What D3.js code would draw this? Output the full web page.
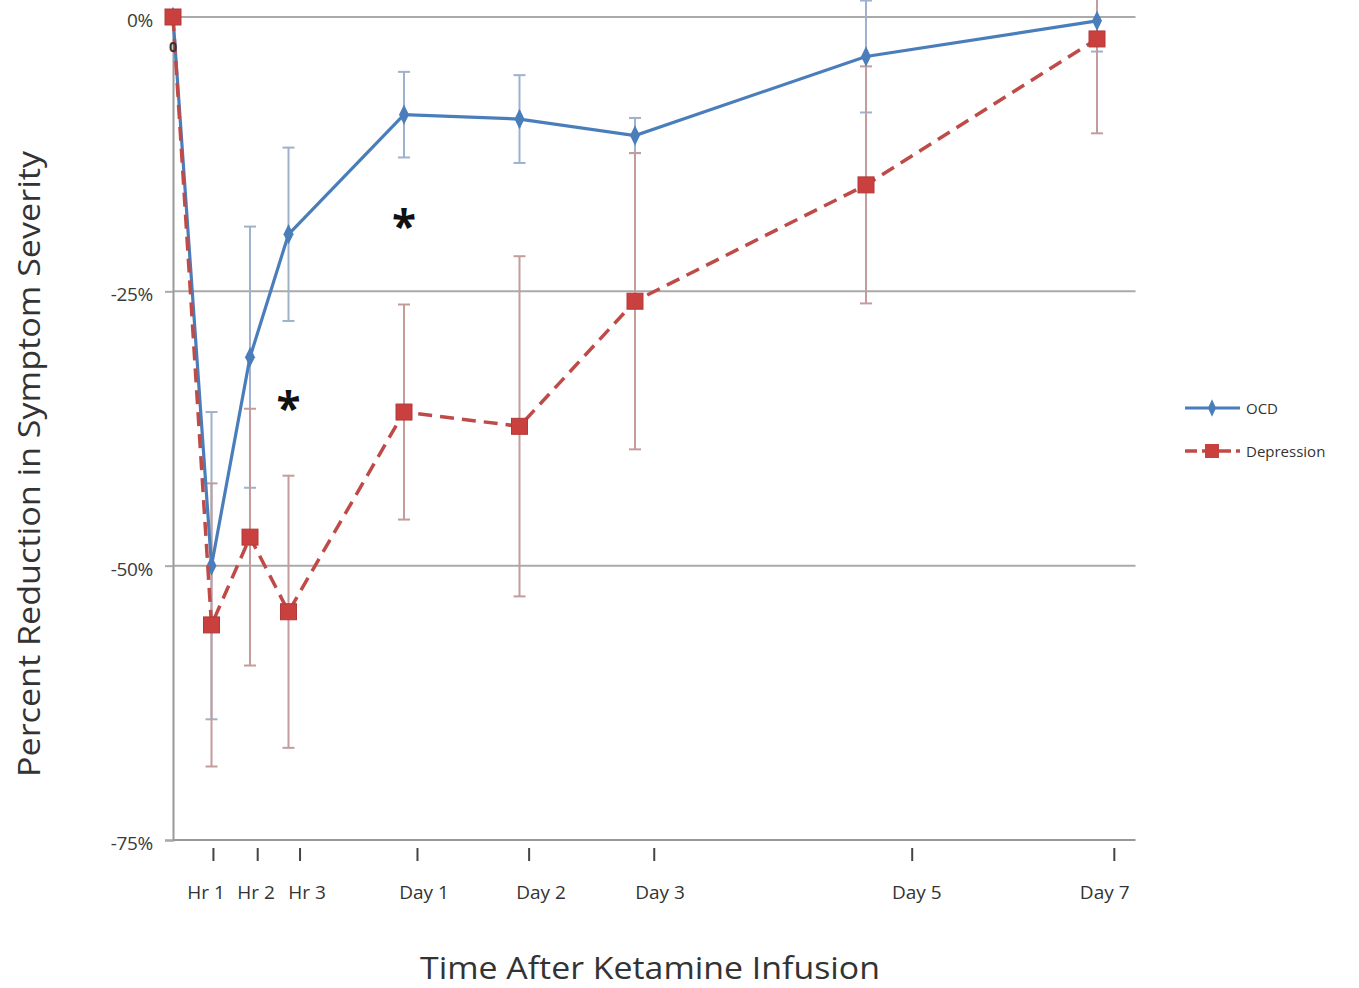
<!DOCTYPE html>
<html>
<head>
<meta charset="utf-8">
<script src="https://cdn.jsdelivr.net/npm/d3@7"></script>
<style>
  body { margin: 0; background: #fff; }
  text { font-family: "Open Sans", sans-serif; }
</style>
</head>
<body>
<svg id="chart" width="1359" height="988"></svg>
<script>
// time points, in axis units (hours 1-3, then 3 units per day)
const timeX = [0, 1, 2, 3, 6, 9, 12, 18, 24];
const ocd = [0, -50.0, -31.0, -19.8, -8.9, -9.3, -10.8, -3.6, -0.35];
const ocdErr = [0, 14.0, 11.9, 7.9, 3.9, 4.0, 1.6, 5.1, 2.8];
const depression = [0, -55.4, -47.4, -54.2, -36.0, -37.3, -25.9, -15.3, -2.0];
const depressionErr = [0, 12.9, 11.7, 12.4, 9.8, 15.5, 13.5, 10.8, 8.6];

// hand placed category labels under the axis
const tickNames = ["Hr 1", "Hr 2", "Hr 3", "Day 1", "Day 2", "Day 3", "Day 5", "Day 7"];
const tickMarkAt = [1.05, 2.2, 3.3, 6.35, 9.25, 12.5, 19.2, 24.45];
const tickLabelAt = [0.86, 2.16, 3.48, 6.52, 9.56, 12.65, 19.32, 24.2];

const yTicks = [0, -25, -50, -75];
// significance markers (centre of the star)
const stars = [{x: 3, y: -34.9}, {x: 6, y: -18.3}];

const svg = d3.select("#chart");

let x = d3.scaleLinear().domain([0, 25]).range([173, 1135.5]);
let y = d3.scaleLinear().domain([-75, 0]).range([840, 17]);

// gridlines
svg.append("g")
	.selectAll("line")
	.data(yTicks.slice(0, 3))
	.join("line")
	.attr("x1", x(0)).attr("x2", x(25))
	.attr("y1", d => y(d)).attr("y2", d => y(d))
	.attr("stroke", "#aaaaaa")
	.attr("stroke-width", 2);

// y axis
let yAxis = d3.axisLeft(y).tickValues(yTicks).tickSize(8).tickPadding(12).tickFormat(d => d + "%");
let yG = svg.append("g").attr("transform", `translate(${x(0)},0)`).call(yAxis);
yG.select(".domain").attr("stroke", "#999").attr("stroke-width", 2);
yG.selectAll(".tick line").attr("stroke", "#aaa").attr("stroke-width", 2);
yG.selectAll(".tick text")
	.attr("font-size", 19).attr("fill", "#3a3a3a")
	.attr("letter-spacing", -0.3)
	.attr("dy", "0.5em");

// x axis line
svg.append("line")
	.attr("x1", x(0)).attr("x2", x(25))
	.attr("y1", y(-75)).attr("y2", y(-75))
	.attr("stroke", "#999").attr("stroke-width", 2);

// tick marks and labels below
svg.append("g")
	.selectAll("line")
	.data(tickMarkAt)
	.join("line")
	.attr("x1", d => x(d)).attr("x2", d => x(d))
	.attr("y1", 848).attr("y2", 861)
	.attr("stroke", "#444").attr("stroke-width", 2);

svg.append("g")
	.selectAll("text")
	.data(tickNames)
	.join("text")
	.attr("x", (d, i) => x(tickLabelAt[i]))
	.attr("y", 899)
	.attr("text-anchor", "middle")
	.attr("font-size", 19)
	.attr("fill", "#333")
	.text(d => d);

// error bars
function errorBars(values, errs, color) {
	let g = svg.append("g").attr("stroke", color).attr("stroke-width", 2);
	values.forEach((v, i) => {
		if (errs[i] === 0) return;
		let cx = x(timeX[i]);
		let top = Math.max(0, y(v + errs[i]));
		let bot = y(v - errs[i]);
		g.append("line").attr("x1", cx).attr("x2", cx).attr("y1", top).attr("y2", bot);
		if (top > 0) g.append("line").attr("x1", cx - 6).attr("x2", cx + 6).attr("y1", top).attr("y2", top);
		g.append("line").attr("x1", cx - 6).attr("x2", cx + 6).attr("y1", bot).attr("y2", bot);
	});
}
errorBars(ocd, ocdErr, "#9fb1cc");
errorBars(depression, depressionErr, "#c49c9c");

let line = d3.line().x((d, i) => x(timeX[i])).y(d => y(d));

// OCD line
svg.append("path")
	.attr("d", line(ocd))
	.attr("fill", "none")
	.attr("stroke", "#4a7ebb")
	.attr("stroke-width", 3.2);

svg.append("g")
	.selectAll("path")
	.data(ocd)
	.join("path")
	.attr("d", d3.symbol(d3.symbolDiamond, 120))
	.attr("transform", (d, i) => `translate(${x(timeX[i])},${y(d)}) scale(0.85,1)`)
	.attr("fill", "#4a7ebb");

// Depression line
svg.append("path")
	.attr("d", line(depression))
	.attr("fill", "none")
	.attr("stroke", "#be4b48")
	.attr("stroke-width", 3.5)
	.attr("stroke-dasharray", "14,8");

svg.append("g")
	.selectAll("rect")
	.data(depression)
	.join("rect")
	.attr("x", (d, i) => x(timeX[i]) - 8)
	.attr("y", d => y(d) - 8)
	.attr("width", 16).attr("height", 16)
	.attr("fill", "#c9403f")
	.attr("stroke", "#b03a38")
	.attr("stroke-width", 1);

// data label for the starting value
svg.append("text")
	.attr("x", x(0)).attr("y", y(0) + 35)
	.attr("text-anchor", "middle")
	.attr("font-size", 14)
	.attr("font-weight", "bold")
	.attr("fill", "#333")
	.text("0");

// significance stars
svg.append("g")
	.selectAll("text")
	.data(stars)
	.join("text")
	.attr("x", d => x(d.x))
	.attr("y", d => y(d.y))
	.attr("dy", "0.55em")
	.attr("text-anchor", "middle")
	.attr("font-size", 44)
	.attr("font-weight", "bold")
	.attr("fill", "#111")
	.text("*");

// legend
let legend = svg.append("g");
legend.append("line")
	.attr("x1", 1185).attr("x2", 1240).attr("y1", 408).attr("y2", 408)
	.attr("stroke", "#4a7ebb").attr("stroke-width", 3);
legend.append("path")
	.attr("d", d3.symbol(d3.symbolDiamond, 90))
	.attr("transform", "translate(1212,408) scale(0.8,1)")
	.attr("fill", "#4a7ebb");
legend.append("text").attr("x", 1246).attr("y", 414)
	.attr("font-size", 15).attr("fill", "#333").text("OCD");

legend.append("line")
	.attr("x1", 1185).attr("x2", 1240).attr("y1", 451).attr("y2", 451)
	.attr("stroke", "#be4b48").attr("stroke-width", 3.5)
	.attr("stroke-dasharray", "12,5");
legend.append("rect")
	.attr("x", 1205).attr("y", 444).attr("width", 14).attr("height", 14)
	.attr("fill", "#c9403f");
legend.append("text").attr("x", 1246).attr("y", 457)
	.attr("font-size", 15).attr("fill", "#333").text("Depression");

// axis titles
svg.append("text")
	.attr("transform", "translate(40,464) rotate(-90)")
	.attr("text-anchor", "middle")
	.attr("font-size", 31)
	.attr("textLength", 626)
	.attr("lengthAdjust", "spacingAndGlyphs")
	.attr("fill", "#333")
	.text("Percent Reduction in Symptom Severity");

svg.append("text")
	.attr("x", 650).attr("y", 979)
	.attr("text-anchor", "middle")
	.attr("font-size", 31)
	.attr("textLength", 460)
	.attr("lengthAdjust", "spacingAndGlyphs")
	.attr("fill", "#333")
	.text("Time After Ketamine Infusion");
</script>
</body>
</html>
